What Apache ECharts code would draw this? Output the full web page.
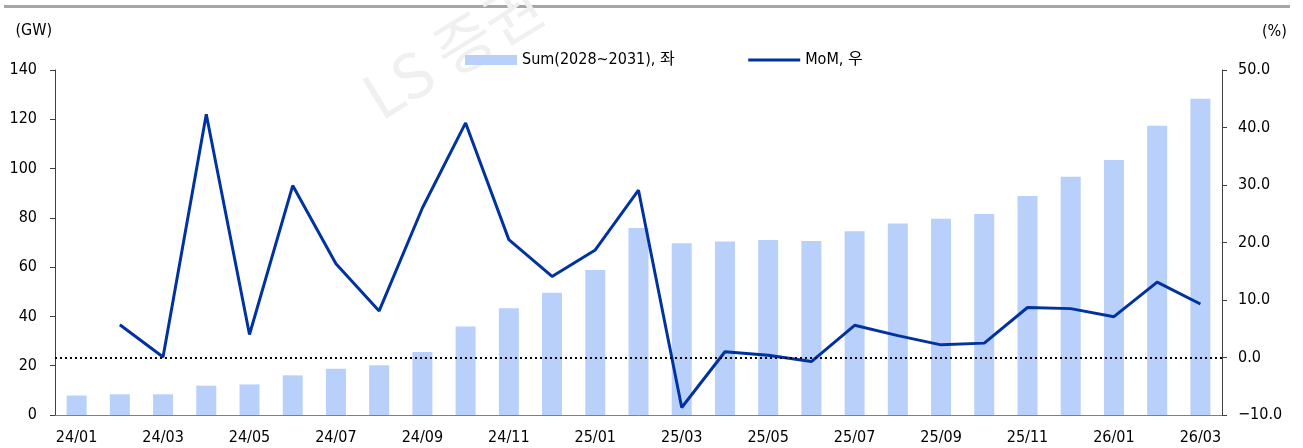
<!DOCTYPE html>
<html>
<head>
<meta charset="utf-8">
<script src="https://cdn.jsdelivr.net/npm/echarts@6/dist/echarts.min.js"></script>
<style>
html, body { margin: 0; padding: 0; background: #fff; }
#chart { width: 1303px; height: 448px; }
</style>
</head>
<body>
<div id="chart"></div>
<script>
// 월별 카테고리
var months = ['24/01','24/02','24/03','24/04','24/05','24/06','24/07','24/08','24/09','24/10','24/11','24/12',
              '25/01','25/02','25/03','25/04','25/05','25/06','25/07','25/08','25/09','25/10','25/11','25/12',
              '26/01','26/02','26/03'];

// Sum(2028~2031), GW (좌축)
var sumGW = [7.9, 8.4, 8.4, 11.9, 12.4, 16.1, 18.8, 20.2, 25.6, 35.9, 43.3, 49.6,
             58.8, 75.9, 69.7, 70.4, 71.0, 70.6, 74.6, 77.7, 79.6, 81.6, 88.9, 96.7,
             103.5, 117.4, 128.3];

// MoM, % (우축)
var momPct = [null, 5.7, 0.1, 42.3, 4.0, 29.9, 16.3, 8.1, 26.0, 40.8, 20.5, 14.1,
              18.7, 29.1, -8.7, 1.0, 0.4, -0.7, 5.6, 3.8, 2.2, 2.5, 8.7, 8.5,
              7.1, 13.1, 9.3];

var FONT = '"DejaVu Sans Condensed", "Noto Sans CJK KR", sans-serif';

window.onload = function(){
    var myChart = echarts.init(document.getElementById('chart'));

    var option = {
        animation: false,
        textStyle: { fontFamily: FONT },
        graphic: [
            // 상단 회색 바
            { type: 'rect', shape: { x: 4, y: 5, width: 1286, height: 3 }, style: { fill: '#a6a6a6' }, z: 0 },
            // 워터마크
            { type: 'text', x: 385, y: 128, rotation: 0.55, z: 0,
              style: { text: 'LS 증권', fill: '#f0f0f0', font: '62px "Noto Sans CJK KR", sans-serif', textVerticalAlign: 'bottom' } }
        ],
        legend: {
            left: 460,
            top: 47,
            itemWidth: 52,
            itemHeight: 10,
            itemGap: 72,
            textStyle: { fontFamily: FONT, fontSize: 16, color: '#000' },
            data: [
                { name: 'Sum(2028~2031), 좌', icon: 'rect' },
                { name: 'MoM, 우', itemStyle: { opacity: 0 }, lineStyle: { width: 3, color: '#0033a0' } }
            ]
        },
        grid: { left: 55, right: 81, top: 70, bottom: 33 },
        xAxis: {
            type: 'category',
            data: months,
            boundaryGap: true,
            axisLine: { lineStyle: { color: '#808080', width: 1 } },
            axisTick: { length: 5, lineStyle: { color: '#333' } },
            axisLabel: { interval: 1, color: '#000', fontSize: 16, margin: 15, fontFamily: FONT }
        },
        yAxis: [
            {
                type: 'value',
                min: 0, max: 140, interval: 20,
                name: '(GW)',
                nameLocation: 'end',
                nameGap: 31,
                nameTextStyle: { align: 'right', padding: [0, 3, 0, 0], color: '#000', fontSize: 16, fontFamily: FONT },
                axisLine: { show: true, lineStyle: { color: '#404040' } },
                axisTick: { show: true, length: 5, lineStyle: { color: '#404040' } },
                axisLabel: { color: '#000', fontSize: 16, margin: 18, fontFamily: FONT },
                splitLine: { show: false }
            },
            {
                type: 'value',
                min: -10, max: 50, interval: 10,
                name: '(%)',
                nameLocation: 'end',
                nameGap: 30,
                nameTextStyle: { align: 'left', padding: [0, 0, 0, 40], color: '#000', fontSize: 16, fontFamily: FONT },
                axisLine: { show: true, lineStyle: { color: '#404040' } },
                axisTick: { show: true, length: 5, lineStyle: { color: '#404040' } },
                axisLabel: {
                    color: '#000', fontSize: 16, margin: 16, fontFamily: FONT,
                    formatter: function(v){ return v.toFixed(1).replace('-', '\u2212'); }
                },
                splitLine: { show: false }
            }
        ],
        series: [
            {
                name: 'Sum(2028~2031), 좌',
                type: 'bar',
                yAxisIndex: 0,
                barWidth: 20,
                itemStyle: { color: '#b9d0fb' },
                data: sumGW
            },
            {
                name: 'MoM, 우',
                type: 'line',
                yAxisIndex: 1,
                symbol: 'none',
                connectNulls: false,
                lineStyle: { color: '#0033a0', width: 3 },
                itemStyle: { color: '#0033a0' },
                data: momPct,
                markLine: {
                    silent: true,
                    symbol: 'none',
                    label: { show: false },
                    lineStyle: { color: '#000', type: [2, 3], width: 2 },
                    data: [{ yAxis: 0 }]
                },
                z: 3
            }
        ]
    };

    myChart.setOption(option);
}
</script>
</body>
</html>
